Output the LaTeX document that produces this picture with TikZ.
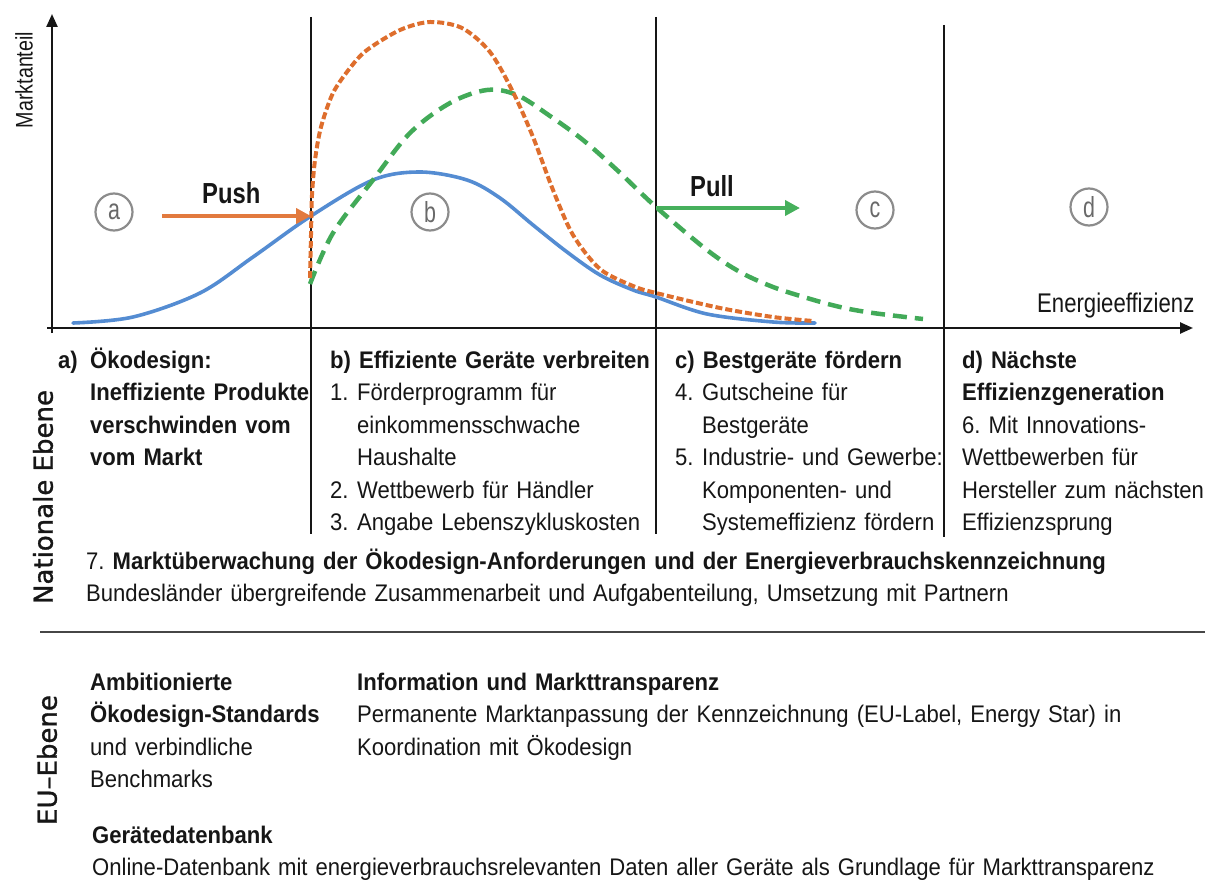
\documentclass[tikz,border=0pt]{standalone}
\usepackage{fontspec}
\setmainfont{Liberation Sans}[FakeStretch=0.92]
\newfontfamily\narrowfont{Liberation Sans}[FakeStretch=0.82]
\newfontfamily\markfont{Liberation Sans}[FakeStretch=0.74]
\newfontfamily\sidefont{DejaVu Sans}[FakeBold=1.2]
\usetikzlibrary{arrows.meta}
\definecolor{curveblue}{RGB}{84,140,210}
\definecolor{curveorange}{RGB}{222,110,45}
\definecolor{curvegreen}{RGB}{66,170,88}
\definecolor{pushorange}{RGB}{226,122,62}
\definecolor{pullgreen}{RGB}{70,176,92}
\definecolor{markgray}{RGB}{140,140,140}
\definecolor{inkblack}{RGB}{22,22,22}
\definecolor{rulegray}{RGB}{70,70,70}
\newcommand\numlab[1]{\makebox[27pt][l]{#1}}
\newcommand\contind{\hspace*{27pt}}
\frenchspacing
\begin{document}
\begin{tikzpicture}[x=1pt,y=-1pt,
  every node/.style={inner sep=0pt, text=inkblack},
  body/.style={font=\fontsize{24}{32.5}\selectfont\frenchspacing, anchor=base west, align=left, text width=#1},
  body/.default=420pt,
  axis/.style={line width=2.4pt, draw=inkblack, -{Triangle[length=13pt,width=11pt]}},
  divider/.style={line width=1.4pt, draw=inkblack},
  phase/.style={circle, draw=markgray, line width=2.2pt, minimum size=37pt,
    text=markgray!75!black, font=\markfont\fontsize{29}{29}\selectfont},
  bluecurve/.style={draw=curveblue, line width=3.6pt, line cap=round},
  orangecurve/.style={draw=curveorange, line width=4pt, dash pattern=on 7pt off 3pt},
  greencurve/.style={draw=curvegreen, line width=4.5pt, dash pattern=on 14pt off 8pt},
  bigarrow/.style={line width=4.5pt, -{Triangle[length=15pt,width=15pt]}},
  sidelabel/.style={rotate=90, font=\sidefont\fontsize{26}{26}\selectfont},
  arrowlabel/.style={anchor=base west, font=\narrowfont\bfseries\fontsize{29}{29}\selectfont}
]
\useasboundingbox (0,0) rectangle (1215,880);

% axes
\coordinate (ytip) at (52,14);
\coordinate (xtip) at (1193,328);
\coordinate (ybot) at (52,333);
\coordinate (xleft) at (47,328);
\draw[axis] (ybot) -- (ytip);
\draw[axis] (xleft) -- (xtip);
\node[rotate=90, font=\narrowfont\fontsize{24}{24}\selectfont] (ylab) at (24,80) {Marktanteil};
\node[anchor=base west, font=\narrowfont\fontsize{27}{27}\selectfont] (xlab) at (1037,312) {Energieeffizienz};

% phase dividers
\coordinate (d1top) at (311,17);  \coordinate (d1bot) at (311,534);
\coordinate (d2top) at (656,17);  \coordinate (d2bot) at (656,534);
\coordinate (d3top) at (944,25);  \coordinate (d3bot) at (944,537);
\draw[divider] (d1top) -- (d1bot);
\draw[divider] (d2top) -- (d2bot);
\draw[divider] (d3top) -- (d3bot);

% market share curves
\draw[bluecurve] plot[smooth, tension=0.55] coordinates {(73,323) (133,317) (200,293) (253,257) (311,216) (373,180) (420,172) (467,180) (500,198) (533,225) (567,252) (600,275) (633,290) (656,297) (707,314) (773,322) (815,323)};
\draw[greencurve] plot[smooth, tension=0.55] coordinates {(310,284) (333,233) (373,180) (410,133) (450,103) (487,90) (517,95) (550,116) (583,140) (617,170) (656,207) (707,250) (740,272) (773,287) (807,298) (840,307) (873,313) (923,319)};
\draw[orangecurve] plot[smooth, tension=0.5] coordinates {(310,278) (311,235) (312,195) (315,160) (321,127) (333,93) (350,68) (367,50) (400,30) (430,22) (462,28) (490,52) (513,92) (533,137) (553,190) (573,235) (600,269) (633,286) (656,293) (720,308) (773,317) (813,321)};

% push and pull
\coordinate (pushstart) at (162,216);
\coordinate (pushend) at (311,216);
\draw[bigarrow, draw=pushorange, fill=pushorange] (pushstart) -- (pushend);
\node[arrowlabel] (push) at (202,203) {Push};
\coordinate (pullstart) at (656,208);
\coordinate (pullend) at (800,208);
\draw[bigarrow, draw=pullgreen, fill=pullgreen] (pullstart) -- (pullend);
\node[arrowlabel] (pull) at (690,196) {Pull};

% phase markers
\node[phase] (pa) at (114,212) {a};
\node[phase] (pb) at (430,212) {b};
\node[phase] (pc) at (875,210) {c};
\node[phase] (pd) at (1089,207) {d};

% national level
\node[body=260pt] (cola) at (58,368) {\textbf{\makebox[32pt][l]{a)}Ökodesign:}\\
\textbf{\hspace*{32pt}Ineffiziente Produkte}\\
\textbf{\hspace*{32pt}verschwinden vom}\\
\textbf{\hspace*{32pt}vom Markt}};
\node[body=320pt] (colb) at (330,368) {\textbf{b) Effiziente Geräte verbreiten}\\
\numlab{1.}Förderprogramm für\\
\contind einkommensschwache\\
\contind Haushalte\\
\numlab{2.}Wettbewerb für Händler\\
\numlab{3.}Angabe Lebenszykluskosten};
\node[body=280pt] (colc) at (675,368) {\textbf{c) Bestgeräte fördern}\\
\numlab{4.}Gutscheine für\\
\contind Bestgeräte\\
\numlab{5.}Industrie- und Gewerbe:\\
\contind Komponenten- und\\
\contind Systemeffizienz fördern};
\node[body=250pt] (cold) at (962,368) {\textbf{d) Nächste}\\
\textbf{Effizienzgeneration}\\
6. Mit Innovations-\\
Wettbewerben für\\
Hersteller zum nächsten\\
Effizienzsprung};
\node[body=1100pt] (monitor) at (86,569) {7. \textbf{Marktüberwachung der Ökodesign-Anforderungen und der Energieverbrauchskennzeichnung}\\
Bundesländer übergreifende Zusammenarbeit und Aufgabenteilung, Umsetzung mit Partnern};
\node[sidelabel] (national) at (43,497) {Nationale Ebene};

% level separator
\coordinate (sepl) at (40,632);
\coordinate (sepr) at (1205,632);
\draw[line width=2.4pt, draw=rulegray] (sepl) -- (sepr);

% EU level
\node[sidelabel] (eu) at (47,760) {EU–Ebene};
\node[body=260pt] (ambit) at (90,690) {\textbf{Ambitionierte}\\
\textbf{Ökodesign-Standards}\\
und verbindliche\\
Benchmarks};
\node[body=840pt] (info) at (357,690) {\textbf{Information und Markttransparenz}\\
Permanente Marktanpassung der Kennzeichnung (EU-Label, Energy Star) in\\
Koordination mit Ökodesign};
\node[body=1100pt] (dbase) at (92,843) {\textbf{Gerätedatenbank}\\
Online-Datenbank mit energieverbrauchsrelevanten Daten aller Geräte als Grundlage für Markttransparenz};
\end{tikzpicture}
\end{document}
